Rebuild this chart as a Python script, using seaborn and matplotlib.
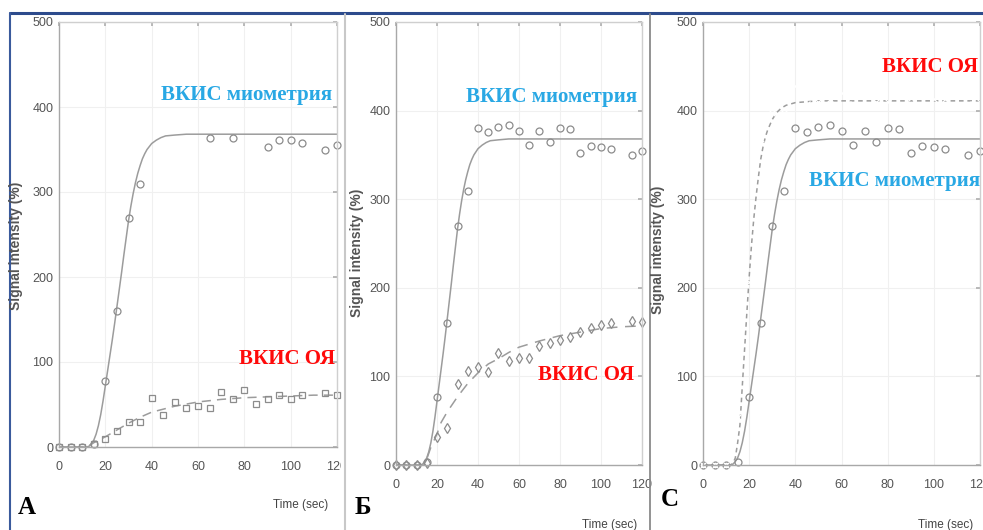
import matplotlib
matplotlib.use("Agg")
import matplotlib.pyplot as plt
import seaborn as sns
import pandas as pd
from matplotlib.lines import Line2D
from matplotlib.transforms import Bbox, TransformedBbox

# measured time points (sec)
t_obs = [0, 5, 10, 15, 20, 25, 30, 35, 40, 45, 50, 55, 60, 65, 70, 75, 80, 85, 90, 95, 100, 105, 115, 120]

# panel A
a_myo_t = [0, 5, 10, 15, 20, 25, 30, 35, 65, 75, 90, 95, 100, 105, 115, 120]
a_myo = [0, 0, 0, 3, 78, 160, 270, 310, 363, 363, 353, 361, 361, 358, 350, 355]
a_oy = [0, 0, 0, 3, 10, 19, 30, 30, 58, 38, 53, 46, 48, 46, 65, 57, 67, 51, 56, 61, 57, 61, 64, 61]

# panel Б / C myometrium (same points)
myo = [0, 0, 0, 3, 77, 160, 270, 309, 380, 376, 381, 384, 377, 361, 377, 364, 380, 379, 352, 360, 359, 357, 350, 354]
b_oy = [0, 0, 0, 2, 32, 42, 91, 106, 111, 105, 126, 117, 121, 121, 134, 138, 141, 145, 150, 155, 158, 160, 163, 161]
c_oy = [0, 0, 0, 54, 206, 368, 397, 397, 428, 408, 410, 413, 420, 408, 405, 410, 410, 404, 414, 406, 413, 413, 407, 410]

# fitted curves
myo_fit_t = [0, 12, 13, 14, 15, 16, 17, 18, 19, 20, 21, 22, 23, 24, 25, 26, 27, 28, 29, 30,
             31, 32, 33, 34, 35, 36, 37, 38, 40, 42, 44, 46, 50, 55, 60, 120]
myo_fit = [0, 0, 1, 4, 8, 15, 25, 38, 54, 72, 90, 108, 126, 145, 165, 185, 205, 226, 246, 266,
           283, 298, 311, 322, 331, 339, 345, 350, 357, 361, 364, 366, 367, 368, 368, 368]
a_oy_fit_t = [0, 12, 15, 20, 25, 30, 35, 40, 50, 60, 70, 80, 90, 100, 110, 120]
a_oy_fit = [0, 0, 5, 12, 20, 28, 35, 41, 48, 53, 56, 58, 59, 60, 61, 61]
b_oy_fit_t = [0, 14, 17, 20, 22, 25, 30, 35, 40, 45, 50, 55, 60, 70, 80, 90, 100, 110, 120]
b_oy_fit = [0, 0, 20, 35, 48, 60, 77, 92, 104, 114, 120, 127, 133, 140, 146, 150, 154, 156, 157]
c_oy_fit_t = [0, 12, 13, 14, 15, 16, 17, 18, 19, 20, 21, 22, 23, 24, 25, 26, 27, 28, 30, 32,
              34, 36, 40, 45, 50, 120]
c_oy_fit = [0, 0, 2, 8, 25, 45, 88, 130, 172, 212, 248, 278, 303, 325, 345, 359, 370, 378, 390, 398,
            403, 406, 409, 410, 411, 411]

BLUE = '#29a8e4'
RED = '#ff0a0a'
MARK = '#8c8c8c'
LINE = '#9c9c9c'

sns.set_theme(style="white")
plt.rcParams['font.family'] = ['Liberation Sans Narrow', 'Liberation Sans', 'DejaVu Sans']

W, H = 983, 530
fig = plt.figure(figsize=(W / 100, H / 100), dpi=100)
fig.patch.set_facecolor('white')


def px_axes(left, top, right, bottom):
    return fig.add_axes([left / W, 1 - bottom / H, (right - left) / W, (bottom - top) / H])


def style_axes(ax):
    ax.set_xlim(0, 120)
    ax.set_ylim(0, 500)
    ax.set_xticks(range(0, 121, 20))
    ax.set_yticks(range(0, 501, 100))
    ax.grid(True, color='#f0f0f0', lw=0.8)
    ax.set_axisbelow(True)
    for side, s in ax.spines.items():
        s.set_color('#a8a8a8' if side in ('left', 'bottom') else '#cfcfcf')
        s.set_linewidth(1)
    ax.tick_params(direction='in', length=3, color='#b0b0b0', top=True, right=True,
                   labelsize=9, labelcolor='#555555')
    ax.tick_params(axis='x', pad=10)
    ax.tick_params(axis='y', pad=4)
    ax.set_xlabel('')
    ax.set_ylabel('')


def points(ax, t, v, marker, ms):
    df = pd.DataFrame({'t': t, 'v': v})
    kw = dict(linestyle='none', marker=marker, markersize=ms, color=MARK, clip_on=False)
    if marker != 'x':
        kw.update(markerfacecolor='none', markeredgecolor=MARK, markeredgewidth=0.9)
    else:
        kw.update(markeredgewidth=0.9)
    sns.lineplot(data=df, x='t', y='v', ax=ax, errorbar=None, **kw)


def curve(ax, t, v, ls):
    df = pd.DataFrame({'t': t, 'v': v})
    sns.lineplot(data=df, x='t', y='v', ax=ax, errorbar=None, color=LINE, lw=1.1, linestyle=ls)


axA = px_axes(59, 22, 337, 447)
axB = px_axes(396, 22, 642, 465)
axC = px_axes(703, 22, 980, 465)

curve(axA, myo_fit_t, myo_fit, '-')
curve(axA, a_oy_fit_t, a_oy_fit, (0, (6, 4)))
points(axA, a_myo_t, a_myo, 'o', 5)
points(axA, t_obs, a_oy, 's', 5)

curve(axB, myo_fit_t, myo_fit, '-')
curve(axB, b_oy_fit_t, b_oy_fit, (0, (7, 5)))
points(axB, t_obs, myo, 'o', 5)
points(axB, t_obs, b_oy, 'd', 5.5)

curve(axC, myo_fit_t, myo_fit, '-')
curve(axC, c_oy_fit_t, c_oy_fit, (0, (3, 2.5)))
points(axC, t_obs, myo, 'o', 5)
points(axC, t_obs, c_oy, 'x', 5)

for ax in (axA, axB, axC):
    style_axes(ax)


def ftext(x, y, s, **kw):
    fig.text(x / W, 1 - y / H, s, ha='center', va='center', **kw)


serif = dict(family=['Liberation Serif', 'DejaVu Serif'], weight='bold')
ftext(247, 95, 'ВКИС миометрия', color=BLUE, fontsize=15, **serif)
ftext(287, 359, 'ВКИС ОЯ', color=RED, fontsize=15, **serif)
ftext(552, 97, 'ВКИС миометрия', color=BLUE, fontsize=15, **serif)
ftext(586, 375, 'ВКИС ОЯ', color=RED, fontsize=15, **serif)
ftext(930, 67, 'ВКИС ОЯ', color=RED, fontsize=15, **serif)
ftext(895, 181, 'ВКИС миометрия', color=BLUE, fontsize=15, **serif)

for x, y in [(16, 246), (357, 253), (658, 250)]:
    ftext(x, y, 'Signal intensity (%)', rotation=90, color='#555555', fontsize=10, weight='bold')
for x, y in [(301, 505), (610, 525), (946, 525)]:
    ftext(x, y, 'Time (sec)', color='#444444', fontsize=8.5)
for x, y, s in [(27, 507, 'А'), (363, 507, 'Б'), (670, 500, 'С')]:
    ftext(x, y, s, color='black', fontsize=18, **serif)

# page frame and panel separators
fig.add_artist(Line2D([10 / W, 1], [1 - 13 / H, 1 - 13 / H], color='#2d4b8c', lw=2.2,
                      transform=fig.transFigure))
fig.add_artist(Line2D([10 / W, 10 / W], [0, 1 - 13 / H], color='#3a5a9c', lw=1.5,
                      transform=fig.transFigure))
fig.add_artist(Line2D([345 / W, 345 / W], [0, 1 - 14 / H], color='#c8c8c8', lw=1.5,
                      transform=fig.transFigure))
fig.add_artist(Line2D([650 / W, 650 / W], [0, 1 - 14 / H], color='#8a8a8a', lw=1.3,
                      transform=fig.transFigure))

# panel A picture is cropped on the right
clip = TransformedBbox(Bbox([[0, 0], [341 / W, 1]]), fig.transFigure)
for lab in axA.get_xticklabels():
    lab.set_clip_box(clip)
    lab.set_clip_on(True)

fig.savefig('out.png', dpi=100, facecolor='white')
